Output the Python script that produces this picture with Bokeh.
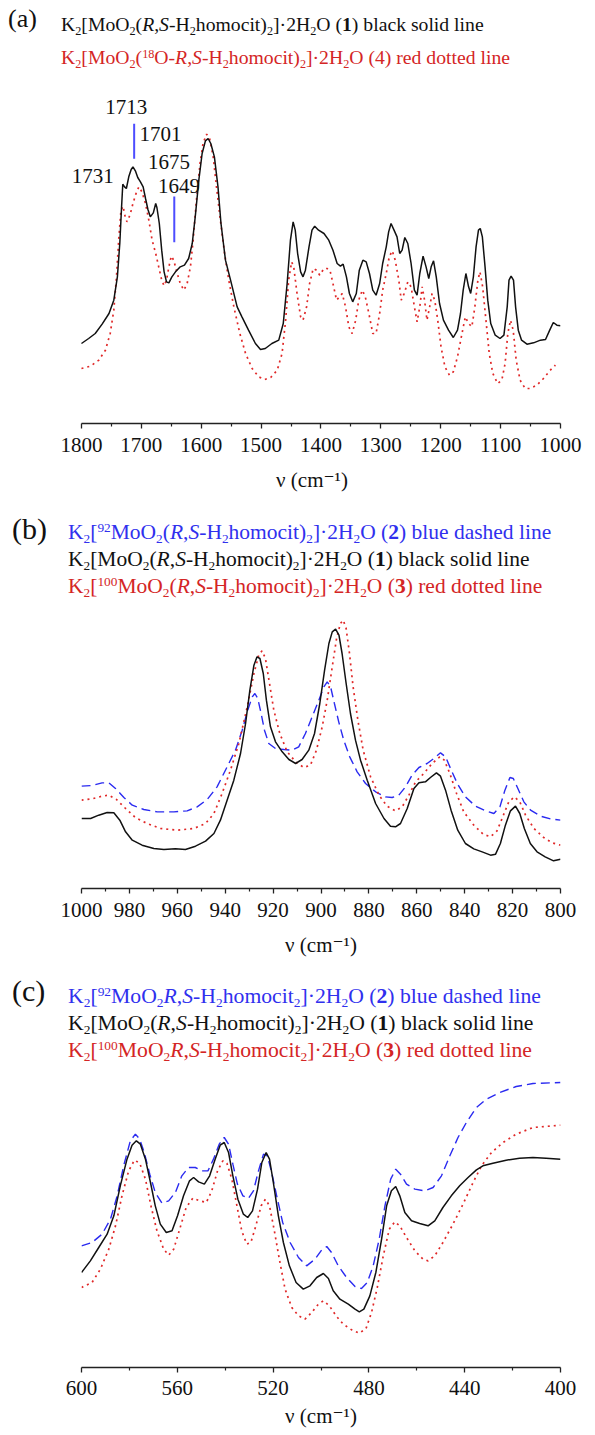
from bokeh.plotting import figure
from bokeh.models import Range1d, FixedTicker, Div, Label
from bokeh.layouts import column
from bokeh.embed import file_html
from bokeh.resources import INLINE

# ---------------- data (wavenumber in cm^-1, intensity in arbitrary units) ----------------
# Panel (a): 1800-1000 cm^-1
a_black_wn = [1800, 1788, 1777, 1765.5, 1754, 1746, 1740, 1736, 1733, 1731, 1728, 1725, 1721, 1717,
              1714, 1710, 1706, 1701.5, 1697, 1693, 1689, 1685, 1680, 1676, 1674, 1670, 1666, 1662,
              1658, 1654, 1649, 1643, 1635, 1628, 1621, 1615, 1610, 1604, 1598.5, 1593, 1588.5,
              1584, 1578, 1572, 1567, 1559.5, 1551, 1540, 1532, 1521, 1509.5, 1501, 1493, 1482,
              1470.5, 1463, 1456.5, 1451, 1446.5, 1443, 1439, 1434, 1430, 1426, 1420, 1415, 1410.5,
              1404, 1395, 1387, 1380, 1373, 1367.5, 1363, 1357.5, 1352.5, 1347, 1341, 1336, 1330,
              1324.5, 1319, 1313.5, 1308, 1302, 1297, 1291, 1287, 1283, 1278, 1273, 1268.5, 1264.5,
              1260, 1255, 1249.5, 1244, 1239.5, 1235, 1229.5, 1224.5, 1220, 1216, 1212, 1207.5,
              1202, 1195.5, 1187, 1179, 1172, 1167, 1162.5, 1158, 1153.5, 1150, 1145.5, 1141, 1137,
              1134, 1130.5, 1126, 1121.5, 1116.5, 1109, 1101, 1094.5, 1089, 1086, 1082.5, 1078.5,
              1075, 1070.5, 1065, 1056, 1045, 1033.5, 1025, 1018, 1012, 1006, 1000]
a_black_int = [240, 255, 270, 298, 330, 370, 440, 540, 650, 718, 710, 705, 740, 762,
               770, 758, 738, 725, 710, 675, 642, 620, 632, 660, 648, 600, 520, 455,
               425, 422, 440, 455, 470, 475, 495, 540, 620, 730, 810, 848, 855,
               840, 800, 710, 600, 490, 430, 350, 320, 280, 240, 222, 225, 240,
               250, 300, 420, 550, 605, 580, 510, 455, 440, 460, 530, 580, 592,
               580, 570, 550, 520, 480, 472, 478, 440, 390, 365, 390, 460, 490,
               485, 450, 400, 385, 420, 480, 530, 575, 600, 580, 560, 510, 520,
               558, 540, 480, 400, 385, 450, 502, 470, 435, 470, 488, 440,
               360, 310, 280, 258, 280, 330, 400, 450, 410, 390, 440, 530, 580,
               585, 560, 470, 370, 300, 265, 255, 265, 350, 430, 442, 430,
               350, 280, 250, 238, 242, 250, 252, 280, 303, 295, 293]
a_red_wn = [1800, 1785, 1771, 1760, 1752, 1746, 1741.5, 1737.5, 1734, 1730.5, 1727, 1724, 1719,
            1714, 1708, 1704, 1699, 1693, 1687.5, 1682, 1676, 1671, 1666, 1662, 1658, 1654, 1650,
            1646, 1640, 1635, 1629, 1623.5, 1618, 1613.5, 1608, 1602, 1597, 1591, 1586, 1580,
            1574.5, 1568, 1561, 1554, 1545.5, 1535.5, 1526, 1515, 1504, 1494, 1484, 1473, 1465,
            1459, 1454, 1449, 1445.5, 1440, 1434, 1430, 1424, 1419, 1413, 1407.5, 1402, 1395,
            1390, 1385, 1380, 1374, 1369, 1364.5, 1359, 1353.5, 1348, 1342, 1337, 1331, 1326,
            1320, 1313.5, 1308, 1302, 1297, 1291, 1286, 1281, 1276, 1270, 1266, 1261, 1255,
            1249.5, 1244, 1239.5, 1235, 1231, 1227, 1223, 1218.5, 1214.5, 1210, 1205, 1199.5,
            1193, 1185.5, 1179, 1172, 1164.5, 1159, 1153.5, 1148, 1143, 1138, 1134.5, 1130,
            1124.5, 1119, 1113, 1105, 1098, 1092.5, 1088, 1083.5, 1079, 1074, 1067.5, 1059,
            1050.5, 1039.5, 1028.5, 1017, 1008.5]
a_red_int = [165, 172, 190, 220, 270, 340, 440, 560, 640, 652, 620, 605, 625,
             660, 695, 710, 695, 660, 610, 550, 510, 470, 430, 413, 430, 470, 502,
             490, 450, 420, 400, 420, 470, 550, 670, 780, 840, 868, 855, 800,
             710, 610, 510, 430, 350, 270, 210, 165, 140, 132, 138, 160, 210,
             310, 430, 485, 470, 390, 320, 310, 350, 420, 465, 460, 445, 465,
             465, 460, 420, 370, 380, 390, 350, 290, 270, 310, 370, 400, 380,
             330, 270, 270, 330, 400, 450, 500, 518, 490, 430, 370, 390, 425,
             410, 350, 305, 350, 410, 370, 310, 350, 390, 370, 310, 230,
             170, 145, 155, 200, 270, 320, 300, 290, 350, 430, 455, 410,
             310, 210, 150, 120, 130, 180, 270, 310, 280, 190, 130, 105,
             105, 115, 135, 160, 175]
a_peak_labels = ["1731", "1713", "1701", "1675", "1649"]
a_marked_peaks = [1712, 1645]

# Panel (b): 1000-800 cm^-1
b_black_wn = [1000, 996.2, 992.8, 989.3, 986.5, 984, 981.6, 978.8, 974.7, 969.8, 965.6, 960.8,
              956.6, 952.4, 948.2, 944.7, 942, 939.2, 936.4, 933.6, 931.5, 929.7, 928, 926.7,
              925.5, 924.1, 922.8, 921.1, 919, 916.2, 913.4, 910.6, 907.9, 905.1, 902.7, 900.5,
              898.5, 896.7, 895.3, 893.9, 892.5, 891.2, 889.5, 887.7, 885.6, 883.5, 880.7, 877.2,
              873.7, 871, 868.9, 866.8, 864, 861.2, 859.1, 856.4, 854.3, 851.8, 850.1, 848,
              845.7, 842.9, 839.7, 836.2, 832.7, 829.2, 827.1, 825.1, 823, 820.9, 818.8, 817,
              815.1, 812.6, 809.8, 806.4, 802.9, 800]
b_black_int = [210, 210, 220, 228, 227, 205, 170, 145, 130, 120, 117, 119,
               117, 127, 142, 165, 205, 265, 325, 405, 495, 595, 670, 695,
               690, 645, 565, 485, 440, 410, 387, 375, 387, 415, 465, 555,
               655, 735, 770, 778, 760, 705, 615, 525, 445, 385, 325, 255,
               210, 187, 185, 195, 240, 300, 317, 320, 333, 347, 337, 295,
               235, 175, 135, 119, 110, 100, 103, 135, 190, 233, 247, 225,
               180, 135, 110, 95, 83, 88]
b_blue_wn = [1000, 995.5, 991.4, 988.6, 985.8, 982.3, 978.8, 974, 968.4, 961.4, 955.9, 951.7,
             947.5, 943.4, 939.2, 935.7, 932.9, 930.6, 928.7, 927.6, 926.4, 925, 923.6, 921.8,
             919, 915.5, 912, 909.3, 906.5, 903.7, 900.9, 898.8, 897.4, 896, 894.4, 892.6, 890.5,
             888, 884.9, 881.4, 877.2, 873.1, 870.3, 867.5, 864.7, 862, 859.1, 855.7, 852.9,
             850.1, 848, 845.9, 843.1, 839.7, 835.5, 831.3, 827.8, 825.3, 823.2, 821.1, 819.7,
             817.8, 815.3, 812.5, 808.3, 804.2, 800]
b_blue_int = [307, 309, 317, 317, 300, 273, 250, 237, 230, 230, 233, 245,
              267, 305, 365, 415, 475, 535, 575, 585, 570, 525, 475, 435,
              420, 417, 415, 425, 465, 515, 565, 605, 620, 605, 555, 500, 445,
              395, 350, 315, 290, 275, 273, 280, 305, 340, 363, 375, 390,
              407, 395, 360, 315, 275, 247, 233, 225, 245, 295, 333, 330,
              300, 260, 235, 217, 209, 205]
b_red_wn = [1000, 995.5, 991.4, 988.6, 985.4, 981.6, 977.5, 972.6, 967, 960, 953.1, 948.2,
            944.7, 941.3, 937.8, 934.3, 930.8, 928, 926, 924.6, 923.2, 921.5, 919.7, 917.2,
            914.1, 910.6, 907.2, 904.4, 901.9, 899.5, 897.4, 895.3, 893.5, 891.9, 890.7, 889.5,
            888.1, 886.6, 884.6, 882.4, 879.3, 875.8, 872.4, 868.9, 866.1, 863.3, 860.5, 857.1,
            853.6, 850.4, 848.5, 846.2, 843.4, 840.4, 836.2, 832.3, 829.2, 826.5, 824, 821.6,
            819.2, 817, 814.6, 811.1, 807, 803.5, 800]
b_red_int = [265, 269, 277, 280, 267, 240, 213, 195, 180, 175, 180, 195,
             225, 285, 355, 435, 545, 645, 700, 713, 690, 615, 535, 465,
             410, 380, 363, 370, 415, 485, 565, 665, 750, 795, 805, 780,
             705, 605, 505, 415, 335, 280, 247, 233, 245, 280, 320, 345,
             375, 395, 385, 345, 285, 230, 190, 163, 155, 173, 217, 260,
             275, 260, 220, 180, 153, 137, 130]

# Panel (c): 600-400 cm^-1
c_black_wn = [600, 596.3, 592.8, 589.3, 586.5, 583.8, 581, 578.9, 577.1, 575.4, 573.3, 571.2,
              569.2, 567.1, 564.6, 562.2, 559.9, 557.4, 554.9, 553.2, 551.1, 548.7, 546.5, 544.2,
              542.1, 540.4, 538.6, 536.8, 534.7, 532.4, 530.6, 528.6, 526.5, 524.7, 522.9, 521.5,
              519.9, 517.8, 515.7, 513.2, 510.4, 507.4, 504.6, 501.8, 499, 496.9, 494.9, 492.1,
              488.6, 485.8, 484, 482.1, 479.6, 477.1, 474.7, 472.6, 470.6, 468.8, 467.1, 465,
              462.2, 458.8, 455.3, 452.5, 449.1, 445.6, 442.1, 438.6, 435.1, 432.4, 428.2, 422.7,
              417.1, 411.5, 406, 400]
c_black_int = [285, 320, 360, 400, 455, 545, 625, 667, 680, 670, 625, 555,
               485, 430, 405, 410, 455, 515, 560, 570, 557, 550, 575, 625,
               667, 675, 645, 575, 505, 460, 450, 470, 535, 615, 645, 625,
               555, 455, 375, 305, 255, 235, 245, 270, 282, 267, 230, 205,
               190, 175, 167, 175, 215, 285, 385, 485, 530, 543, 515, 465,
               440, 432, 425, 440, 480, 515, 545, 570, 593, 605, 613, 622,
               628, 630, 628, 625]
c_blue_wn = [600, 595.6, 591.4, 587.9, 585.1, 582.4, 579.6, 577.5, 575.7, 573.8, 571.5, 569.2,
             566.4, 563.6, 560.8, 558.1, 555.3, 552.5, 549.7, 547.2, 544.9, 542.5, 540.4, 538.6,
             536.8, 534.9, 532.6, 530.3, 528.2, 526.1, 524, 522.4, 520.6, 518.5, 516, 512.9,
             509.4, 506, 502.5, 499.7, 497.6, 495.6, 492.8, 489.3, 485.8, 483.1, 480.7, 478.2,
             475.7, 473.3, 470.9, 468.8, 466.8, 464.3, 460.8, 456.7, 453.2, 449.7, 446.2, 442.8,
             439.3, 435.1, 431, 425.4, 418.5, 411.5, 400]
c_blue_int = [365, 375, 400, 445, 515, 605, 680, 700, 685, 645, 580, 525,
              493, 500, 525, 575, 600, 600, 590, 590, 625, 670, 690, 670,
              610, 550, 515, 507, 530, 590, 640, 635, 585, 515, 435, 375,
              330, 305, 325, 353, 363, 345, 305, 270, 243, 237, 255, 305,
              385, 485, 565, 595, 580, 550, 535, 530, 540, 575, 635, 690,
              735, 780, 805, 825, 843, 852, 855]
c_red_wn = [600, 595.6, 592.1, 588.6, 585.8, 583.1, 580.3, 577.9, 575.7, 573.3, 571, 568.5,
            565.7, 563.6, 561.5, 559, 556.3, 553.5, 550.7, 547.9, 545.6, 543.2, 541, 539.3,
            537.2, 535.1, 533.1, 531, 529.3, 527.2, 525, 523.2, 521.5, 519.6, 517.4, 515,
            512.2, 509.4, 506.7, 503.9, 501.1, 499, 496.5, 493.7, 490.7, 487.2, 484, 481.2,
            478.9, 476.5, 474, 471.5, 469.2, 467.1, 464.3, 460.8, 457.4, 455.3, 452.5, 449.1,
            444.9, 440.7, 436.5, 433, 428.8, 424, 418.5, 411.5, 400]
c_red_int = [240, 255, 295, 355, 425, 515, 590, 622, 613, 565, 485, 410,
             355, 337, 355, 415, 480, 508, 500, 495, 530, 590, 620, 613,
             565, 485, 410, 370, 375, 425, 485, 505, 485, 415, 325, 235,
             180, 155, 145, 165, 190, 200, 185, 155, 130, 113, 103, 117,
             165, 240, 335, 415, 437, 425, 390, 350, 325, 320, 335, 375,
             430, 490, 555, 605, 645, 675, 700, 720, 727]

# ---------------- styles ----------------
FONT = "Liberation Serif, Times New Roman, Tinos, DejaVu Serif, serif"
BLACK = "#111111"
RED = "#e02828"
BLUE = "#2a2af0"
RED_TXT = "#d42525"
BLUE_TXT = "#3030ee"
MARK = "#4d4dff"


def make_fig(xr, bounds, majors, minors, ytop, height, bleft, btop, bbottom, lab_standoff,
             title_standoff):
    p = figure(width=595, height=height, x_range=Range1d(*xr), y_range=Range1d(0, ytop),
               y_axis_location=None, toolbar_location=None, output_backend="svg",
               min_border_left=bleft, min_border_right=35, min_border_top=btop,
               min_border_bottom=bbottom, margin=0, frame_align=False)
    p.outline_line_color = None
    p.grid.visible = False
    ax = p.xaxis[0]
    ax.bounds = bounds
    ax.ticker = FixedTicker(ticks=majors, minor_ticks=minors)
    ax.axis_line_color = "#222222"
    ax.axis_line_width = 1.3
    ax.major_tick_line_color = "#222222"
    ax.major_tick_line_width = 1.3
    ax.minor_tick_line_color = "#222222"
    ax.minor_tick_line_width = 1.2
    ax.major_tick_in = 0
    ax.major_tick_out = 5
    ax.minor_tick_in = 0
    ax.minor_tick_out = 3
    ax.major_label_standoff = lab_standoff
    ax.major_label_text_font = FONT
    ax.major_label_text_font_size = "21px"
    ax.major_label_text_color = "#111111"
    ax.axis_label = "ν (cm⁻¹)"
    ax.axis_label_text_font = FONT
    ax.axis_label_text_font_size = "21px"
    ax.axis_label_text_font_style = "normal"
    ax.axis_label_text_color = "#111111"
    ax.axis_label_standoff = title_standoff
    return p


# ---------- panel (a) ----------
pa = make_fig((1830, 1000), (1000, 1800), list(range(1000, 1801, 100)),
              list(range(1050, 1800, 100)), 990, 419, 63, 5, 84, 9, 13)
pa.line(a_red_wn, a_red_int, line_color=RED, line_width=1.7, line_dash="2 4")
pa.line(a_black_wn, a_black_int, line_color=BLACK, line_width=1.5)
pa.segment(x0=a_marked_peaks, y0=[794, 544], x1=a_marked_peaks, y1=[899, 681],
           line_color=MARK, line_width=2)
for txt, lx, ly in zip(a_peak_labels, [1781, 1725, 1668, 1654, 1637], [744, 951, 870, 785, 714]):
    pa.add_layout(Label(x=lx, y=ly, text=txt, text_font=FONT, text_font_size="21px",
                        text_color="#111111", text_align="center", text_baseline="middle"))

# ---------- panel (b) ----------
pb = make_fig((1000, 800), (800, 1000), list(range(800, 1001, 20)), list(range(810, 1000, 20)),
              834, 372, 81, 10, 84, 9, 13)
pb.line(b_blue_wn, b_blue_int, line_color=BLUE, line_width=1.4, line_dash="9 5")
pb.line(b_red_wn, b_red_int, line_color=RED, line_width=1.7, line_dash="2 4")
pb.line(b_black_wn, b_black_int, line_color=BLACK, line_width=1.5)

# ---------- panel (c) ----------
pc = make_fig((600, 400), (400, 600), list(range(400, 601, 40)), list(range(420, 600, 40)),
              879, 368, 81, 8, 67, 8, 6)
pc.line(c_blue_wn, c_blue_int, line_color=BLUE, line_width=1.4, line_dash="9 5")
pc.line(c_red_wn, c_red_int, line_color=RED, line_width=1.7, line_dash="2 4")
pc.line(c_black_wn, c_black_int, line_color=BLACK, line_width=1.5)


# ---------- headers (rich text) ----------
def sub(s):
    return f'<span style="font-size:0.62em;vertical-align:-0.3em;line-height:0">{s}</span>'


def sup(s):
    return f'<span style="font-size:0.62em;vertical-align:0.5em;line-height:0">{s}</span>'


K2 = "K" + sub("2")
TAIL = "]·2H" + sub("2") + "O"
RS = "<i>R</i>,<i>S</i>-H" + sub("2") + "homocit"
line_black = K2 + "[MoO" + sub("2") + "(" + RS + ")" + sub("2") + TAIL + " (<b>1</b>) black solid line"
line_a_red = (K2 + "[MoO" + sub("2") + "(" + sup("18") + "O-" + RS + ")" + sub("2") + TAIL
              + " (4) red dotted line")
line_b_blue = (K2 + "[" + sup("92") + "MoO" + sub("2") + "(" + RS + ")" + sub("2") + TAIL
               + " (<b>2</b>) blue dashed line")
line_b_red = (K2 + "[" + sup("100") + "MoO" + sub("2") + "(" + RS + ")" + sub("2") + TAIL
              + " (<b>3</b>) red dotted line")
line_c_blue = (K2 + "[" + sup("92") + "MoO" + sub("2") + RS + sub("2") + TAIL
               + " (<b>2</b>) blue dashed line")
line_c_red = (K2 + "[" + sup("100") + "MoO" + sub("2") + RS + sub("2") + TAIL
              + " (<b>3</b>) red dotted line")

CSS_FONT = "'Liberation Serif','Times New Roman',Tinos,'DejaVu Serif',serif"


def header(tag, lines, height, tag_top, tag_left, tag_size, lines_top, lines_left, size, lh):
    rows = "".join(f'<div style="color:{c};">{t}</div>' for t, c in lines)
    html = (f'<div style="position:relative;width:595px;height:{height}px;'
            f'font-family:{CSS_FONT};color:#111;">'
            f'<div style="position:absolute;left:{tag_left}px;top:{tag_top}px;'
            f'font-size:{tag_size}px;line-height:{tag_size}px;">{tag}</div>'
            f'<div style="position:absolute;left:{lines_left}px;top:{lines_top}px;'
            f'font-size:{size}px;line-height:{lh}px;white-space:nowrap;">{rows}</div></div>')
    return Div(text=html, width=595, height=height, margin=0)


da = header("(a)", [(line_black, "#111"), (line_a_red, RED_TXT)], 88, 6, 8, 26, 8, 61, 19.7, 33)
db = header("(b)", [(line_b_blue, BLUE_TXT), (line_black, "#111"), (line_b_red, RED_TXT)],
            93, 7, 12, 30, 12, 68, 21.5, 27)
dc = header("(c)", [(line_c_blue, BLUE_TXT), (line_black, "#111"), (line_c_red, RED_TXT)],
            94, 4, 12, 30, 11, 68, 21.7, 27)

layout = column(da, pa, db, pb, dc, pc, spacing=0)
open("out.html", "w").write(file_html(layout, INLINE))
